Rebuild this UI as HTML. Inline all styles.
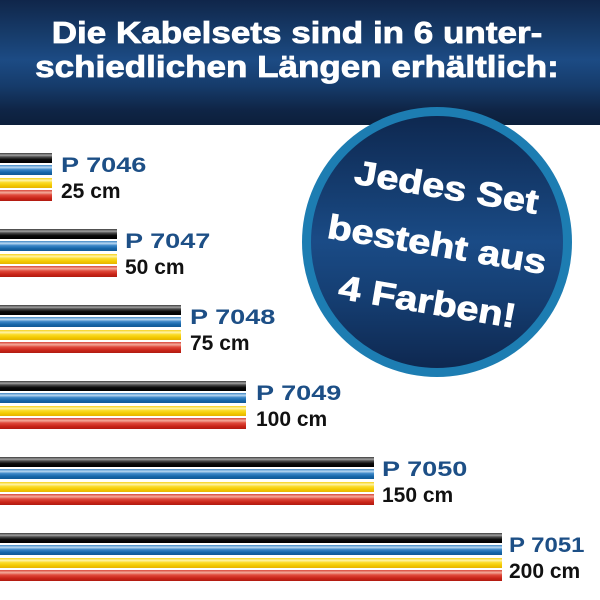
<!DOCTYPE html>
<html>
<head>
<meta charset="utf-8">
<style>
  html, body { margin:0; padding:0; }
  body { width:600px; height:600px; position:relative; overflow:hidden; background:#ffffff; font-family:"Liberation Sans", Arial, sans-serif; }
  .hdr { position:absolute; left:0; top:0; width:600px; height:125px;
    background: linear-gradient(to bottom, #10264a 0%, #163a68 25%, #1c4b84 48%, #163c6c 68%, #0f2546 88%, #0c1f3b 100%); }
  .ht { position:absolute; left:-3px; width:600px; text-align:center; color:#fff; font-weight:bold; font-size:31px; line-height:31px; white-space:nowrap;
    transform:scaleX(1.13); transform-origin:300px 0; -webkit-text-stroke:0.8px #fff; }
  .bar { position:absolute; left:0; height:10px; }
  .k { background: linear-gradient(#3a3a3a 0%, #a0a0a0 22%, #4a4a4a 40%, #0a0a0a 65%, #000 100%); }
  .b { background: linear-gradient(#3f86c4 0%, #b8d8f2 24%, #3d88c8 45%, #1565a8 75%, #125a96 100%); }
  .y { background: linear-gradient(#f7d21a 0%, #fff4a8 24%, #fbdc2a 45%, #f2c800 75%, #e6b400 100%); }
  .r { background: linear-gradient(#d8463a 0%, #f4aa9a 24%, #e04a3c 45%, #c92418 75%, #b01a10 100%); }
  .p { position:absolute; font-weight:bold; font-size:21px; line-height:21px; color:#1d4f86; white-space:nowrap; transform:scaleX(1.29); transform-origin:0 0; }
  .c { position:absolute; font-weight:bold; font-size:21px; line-height:21px; color:#111; white-space:nowrap; }
  .circ { position:absolute; left:302px; top:107px; width:252px; height:252px; border-radius:50%; border:9px solid #1d7db2;
    background: linear-gradient(to bottom, #0e2850 0%, #153d70 30%, #1a4b86 50%, #153e72 72%, #0e2850 100%); }
  .ctext { position:absolute; left:287px; top:157.7px; width:300px; height:174px; text-align:center; color:#fff; font-weight:bold; font-size:34px; line-height:58px;
    transform:rotate(9.5deg); transform-origin:150px 87px; -webkit-text-stroke:0.8px #fff; }
  .ctext div { transform:scaleX(1.17); white-space:nowrap; }
</style>
</head>
<body>
<div class="hdr"></div>
<div class="ht" style="top:17.3px;">Die Kabelsets sind in 6 unter-</div>
<div class="ht" style="top:51.3px;">schiedlichen Längen erhältlich:</div>

<!-- Row 1 T=153 -->
<div class="bar k" style="top:153px;width:52px;"></div>
<div class="bar b" style="top:165.3px;width:52px;"></div>
<div class="bar y" style="top:178px;width:52px;"></div>
<div class="bar r" style="top:190.3px;width:52px;height:10.4px;"></div>
<div class="p" style="left:61px;top:154.7px;">P 7046</div>
<div class="c" style="left:61px;top:180.7px;">25 cm</div>

<!-- Row 2 T=229 -->
<div class="bar k" style="top:229px;width:117px;"></div>
<div class="bar b" style="top:241.3px;width:117px;"></div>
<div class="bar y" style="top:254px;width:117px;"></div>
<div class="bar r" style="top:266.3px;width:117px;height:10.4px;"></div>
<div class="p" style="left:125px;top:230.7px;">P 7047</div>
<div class="c" style="left:125px;top:256.7px;">50 cm</div>

<!-- Row 3 T=305 -->
<div class="bar k" style="top:305px;width:181px;"></div>
<div class="bar b" style="top:317.3px;width:181px;"></div>
<div class="bar y" style="top:330px;width:181px;"></div>
<div class="bar r" style="top:342.3px;width:181px;height:10.4px;"></div>
<div class="p" style="left:190px;top:306.7px;">P 7048</div>
<div class="c" style="left:190px;top:332.7px;">75 cm</div>

<!-- Row 4 T=381 -->
<div class="bar k" style="top:381px;width:246px;"></div>
<div class="bar b" style="top:393.3px;width:246px;"></div>
<div class="bar y" style="top:406px;width:246px;"></div>
<div class="bar r" style="top:418.3px;width:246px;height:10.4px;"></div>
<div class="p" style="left:256px;top:382.7px;">P 7049</div>
<div class="c" style="left:256px;top:408.7px;">100 cm</div>

<!-- Row 5 T=457 -->
<div class="bar k" style="top:457px;width:374px;"></div>
<div class="bar b" style="top:469.3px;width:374px;"></div>
<div class="bar y" style="top:482px;width:374px;"></div>
<div class="bar r" style="top:494.3px;width:374px;height:10.4px;"></div>
<div class="p" style="left:382px;top:458.7px;">P 7050</div>
<div class="c" style="left:382px;top:484.7px;">150 cm</div>

<!-- Row 6 T=533 -->
<div class="bar k" style="top:533px;width:502px;"></div>
<div class="bar b" style="top:545.3px;width:502px;"></div>
<div class="bar y" style="top:558px;width:502px;"></div>
<div class="bar r" style="top:570.3px;width:502px;height:10.4px;"></div>
<div class="p" style="left:509px;top:535px;transform:scaleX(1.14);">P 7051</div>
<div class="c" style="left:509px;top:561px;">200 cm</div>

<div class="circ"></div>
<div class="ctext">
  <div>Jedes Set</div>
  <div>besteht aus</div>
  <div>4 Farben!</div>
</div>
</body>
</html>
